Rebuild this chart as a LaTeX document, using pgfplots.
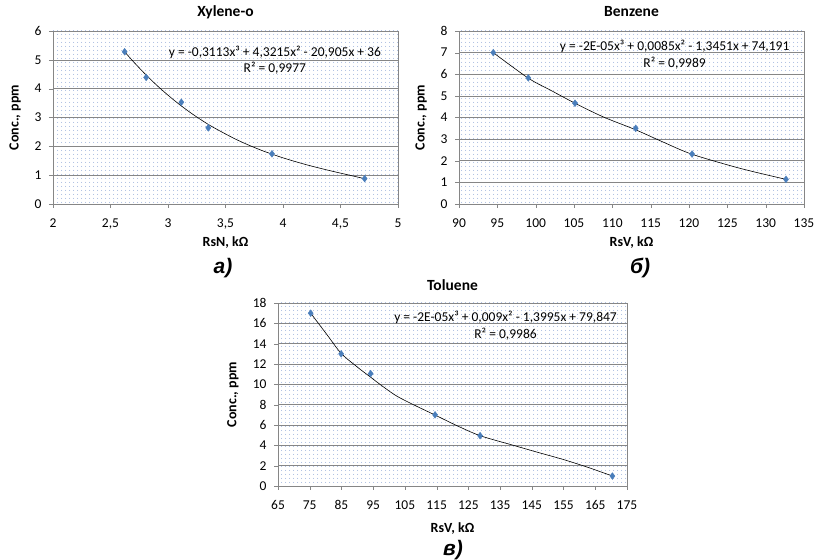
\documentclass[border=0pt]{standalone}
\usepackage{fontspec}
\setmainfont{Carlito}
\newfontfamily\labfont{Liberation Sans}
\usepackage{pgfplots}
\pgfplotsset{compat=1.18}
\usetikzlibrary{patterns.meta}

\definecolor{markblue}{RGB}{74,126,187}
\definecolor{dotblue}{RGB}{120,150,205}
\definecolor{gridgray}{RGB}{134,134,134}

\tikzdeclarepattern{
  name=xdots, type=uncolored,
  bounding box={(0pt,0pt) and (4pt,4pt)},
  tile size={(4pt,4pt)},
  code={\fill (2pt,2pt) circle (0.5pt);}
}

\pgfplotsset{
  excel/.style={
    scale only axis, anchor=south west,
    axis background/.style={pattern={xdots}, pattern color=dotblue},
    axis line style={gridgray},
    tick pos=left, tick align=outside, major tick length=4pt,
    tick style={gridgray},
    ymajorgrids, grid style={gridgray, line width=0.6pt},
    ticklabel style={font=\fontsize{13.5}{13.5}\selectfont},
    xticklabel style={yshift=-7pt},
    yticklabel style={xshift=-4pt},
    /pgf/number format/use comma,
    /pgf/number format/assume math mode=true,
    title style={font=\bfseries\fontsize{15.5}{15.5}\selectfont, anchor=center},
    label style={font=\bfseries\fontsize{14}{14}\selectfont, anchor=center},
    clip=false,
  },
  trend/.style={black, line width=0.6pt, smooth, no markers},
  pts/.style={only marks, mark=diamond*, mark size=3.4pt, mark options={draw=markblue, fill=markblue}},
}
\tikzset{eq/.style={align=center, font=\fontsize{13.5}{16.5}\selectfont}}

\begin{document}
\begin{tikzpicture}
\useasboundingbox (0,0) rectangle (815pt,560pt);

% a) Xylene-o
\begin{axis}[excel, at={(53pt,356pt)}, width=345pt, height=173pt,
  xmin=2, xmax=5, ymin=0, ymax=6,
  xtick={2,2.5,3,3.5,4,4.5,5}, ytick={0,1,...,6},
  title={Xylene-o}, title style={at={(axis description cs:0.5,1.075)}},
  xlabel={RsN, kΩ}, xlabel style={at={(axis description cs:0.5,-0.225)}},
  ylabel={Conc., ppm}, ylabel style={at={(axis description cs:-0.11,0.5)}},
]
\addplot[trend] coordinates {
  (2.63,5.248) (2.7,4.933) (2.8,4.513) (2.9,4.127) (3.0,3.774) (3.1,3.45)
  (3.2,3.155) (3.3,2.887) (3.4,2.645) (3.6,2.225) (3.8,1.881) (4.0,1.601)
  (4.2,1.366) (4.4,1.164) (4.6,0.979) (4.71,0.878)
};
\addplot[pts] coordinates {
  (2.623,5.28) (2.81,4.39) (3.116,3.53) (3.35,2.64) (3.904,1.74) (4.71,0.88)
};
\node[eq] at (rel axis cs:0.643,0.832)
  {y = -0,3113x³ + 4,3215x² - 20,905x + 36\\R² = 0,9977};
\end{axis}

% b) Benzene
\begin{axis}[excel, at={(459pt,356pt)}, width=345pt, height=173pt,
  xmin=90, xmax=135, ymin=0, ymax=8,
  xtick={90,95,...,135}, ytick={0,1,...,8},
  title={Benzene}, title style={at={(axis description cs:0.5,1.075)}},
  xlabel={RsV, kΩ}, xlabel style={at={(axis description cs:0.5,-0.225)}},
  ylabel={Conc., ppm}, ylabel style={at={(axis description cs:-0.11,0.5)}},
]
\addplot[trend] coordinates {
  (94.47,7.0) (99.04,5.82) (101.9,5.27) (105.13,4.66) (108.8,4.03)
  (113.05,3.43) (116.65,2.86) (120.4,2.3) (126.65,1.65) (132.65,1.14)
};
\addplot[pts] coordinates {
  (94.47,7.0) (99.04,5.83) (105.13,4.66) (113.05,3.5) (120.4,2.31) (132.65,1.14)
};
\node[eq] at (rel axis cs:0.625,0.864)
  {y = -2E-05x³ + 0,0085x² - 1,3451x + 74,191\\R² = 0,9989};
\end{axis}

% c) Toluene
\begin{axis}[excel, at={(278pt,74pt)}, width=349pt, height=183pt,
  xmin=65, xmax=175, ymin=0, ymax=18,
  xtick={65,75,...,175}, ytick={0,2,...,18},
  title={Toluene}, title style={at={(axis description cs:0.5,1.066)}},
  xlabel={RsV, kΩ}, xlabel style={at={(axis description cs:0.5,-0.23)}},
  ylabel={Conc., ppm}, ylabel style={at={(axis description cs:-0.129,0.5)}},
]
\addplot[trend] coordinates {
  (75.3,17.0) (80.4,14.9) (84.9,13.05) (90,11.7) (94.2,10.7) (98,9.8)
  (102.4,8.85) (108,7.95) (114.5,6.98) (121.3,5.95) (128.7,4.95)
  (139.2,4.0) (147,3.3) (155,2.6) (163,1.8) (170.4,0.98)
};
\addplot[pts] coordinates {
  (75.3,17.0) (84.9,13.0) (94.2,11.05) (114.5,7.0) (128.7,4.95) (170.4,0.98)
};
\node[eq] at (rel axis cs:0.652,0.877)
  {y = -2E-05x³ + 0,009x² - 1,3995x + 79,847\\R² = 0,9986};
\end{axis}

\node[font=\labfont\bfseries\itshape\fontsize{21}{21}\selectfont] at (223pt,292pt) {а)};
\node[font=\labfont\bfseries\itshape\fontsize{21}{21}\selectfont] at (640pt,292pt) {б)};
\node[font=\labfont\bfseries\itshape\fontsize{21}{21}\selectfont] at (453pt,10pt) {в)};
\end{tikzpicture}
\end{document}
